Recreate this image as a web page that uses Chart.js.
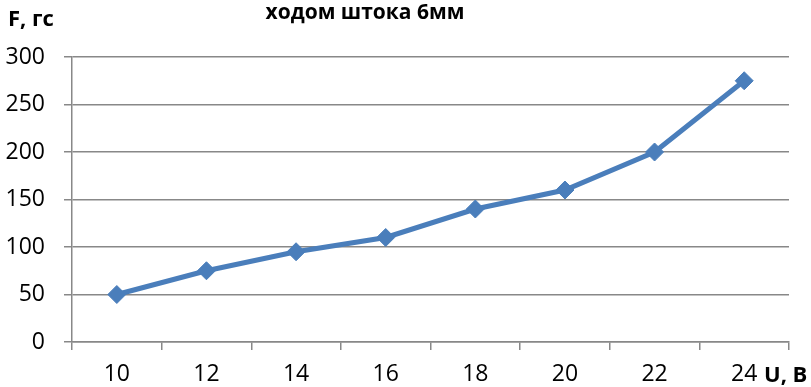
<!DOCTYPE html>
<html>
<head>
<meta charset="utf-8">
<script src="https://cdn.jsdelivr.net/npm/chart.js@4"></script>
<style>
  html, body { margin: 0; padding: 0; background: #ffffff; }
  #wrap { width: 811px; height: 387px; position: relative; }
</style>
</head>
<body>
<div id="wrap"><canvas id="c" width="811" height="387"></canvas></div>
<script>
// Voltage (U, В) and force (F, гс)
const voltages = ['10', '12', '14', '16', '18', '20', '22', '24'];
const forces = [50, 75, 95, 110, 140, 160, 200, 275];
const forceTicks = [0, 50, 100, 150, 200, 250, 300];

const titleText = 'ходом штока 6мм';
const yTitle = 'F, гс';
const xTitle = 'U, B';

const FONT = "'Open Sans', 'Liberation Sans', sans-serif";
const GRID = '#888888';
const BLUE = '#4a7ebb';

// Title and axis captions drawn onto the canvas
const captions = {
  id: 'captions',
  afterDraw(chart) {
    const ctx = chart.ctx;
    ctx.save();
    ctx.fillStyle = '#000000';
    ctx.textBaseline = 'middle';
    ctx.font = 'bold 21px ' + FONT;
    ctx.textAlign = 'center';
    ctx.fillText(titleText, 365, 13);
    ctx.font = 'bold 22px ' + FONT;
    ctx.textAlign = 'left';
    ctx.fillText(yTitle, 8, 20);
    ctx.fillText(xTitle, 764, 376);
    ctx.restore();
  }
};

new Chart(document.getElementById('c'), {
  type: 'line',
  data: {
    labels: voltages,
    datasets: [{
      data: forces,
      borderColor: BLUE,
      backgroundColor: BLUE,
      borderWidth: 5,
      pointStyle: 'rectRot',
      pointRadius: 9,
      pointHoverRadius: 9,
      pointBackgroundColor: BLUE,
      pointBorderColor: BLUE,
      pointBorderWidth: 1,
      tension: 0,
      fill: false
    }]
  },
  options: {
    responsive: false,
    animation: false,
    layout: { padding: { top: 57, right: 22, left: 0, bottom: 0 } },
    plugins: {
      legend: { display: false },
      title: { display: false },
      tooltip: { enabled: false }
    },
    scales: {
      x: {
        type: 'category',
        offset: true,
        afterFit(s) { s.height = 45; },
        grid: {
          offset: true,
          drawOnChartArea: false,
          drawTicks: true,
          tickLength: 8,
          color: GRID,
          lineWidth: 1.5
        },
        border: { display: true, color: GRID, width: 1.5 },
        ticks: {
          color: '#000000',
          font: { family: FONT, size: 23 },
          padding: 11,
          maxRotation: 0,
          autoSkip: false
        }
      },
      y: {
        min: 0,
        max: 300,
        afterFit(s) { s.width = 72; },
        afterBuildTicks(s) { s.ticks = forceTicks.map(v => ({ value: v })); },
        grid: {
          drawTicks: true,
          tickLength: 8,
          color: GRID,
          lineWidth: 1.5
        },
        border: { display: true, color: GRID, width: 1.5 },
        ticks: {
          color: '#000000',
          font: { family: FONT, size: 23 },
          padding: 19
        }
      }
    }
  },
  plugins: [captions]
});
</script>
</body>
</html>
